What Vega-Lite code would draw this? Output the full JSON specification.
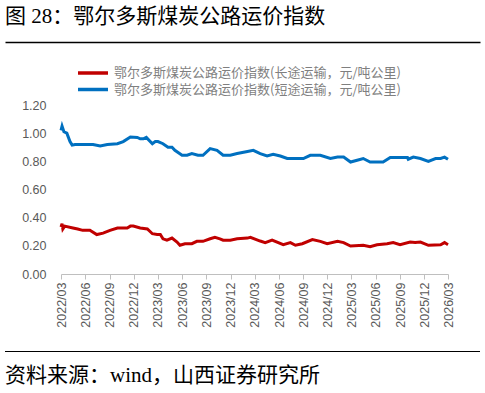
{
  "$schema": "https://vega.github.io/schema/vega-lite/v6.json",
  "padding": {"left": 5, "top": 6, "right": 5, "bottom": 0},
  "background": "white",
  "spacing": 17,
  "config": {"font": "Liberation Sans", "view": {"stroke": null}},
  "title": {"text": "图 28：鄂尔多斯煤炭公路运价指数", "anchor": "start", "frame": "bounds", "fontSize": 21, "font": "Liberation Serif, Noto Sans CJK SC", "fontWeight": "normal", "color": "#000000", "offset": 15},
  "resolve": {"scale": {"color": "independent"}, "legend": {"color": "independent"}},
  "vconcat": [
    {
      "width": 475,
      "height": 169,
      "data": {
        "values": [
          {"d": "2022/03/01", "s": "长途", "v": 0.334},
          {"d": "2022/03/05", "s": "长途", "v": 0.357},
          {"d": "2022/03/08", "s": "长途", "v": 0.32},
          {"d": "2022/03/15", "s": "长途", "v": 0.34},
          {"d": "2022/04/15", "s": "长途", "v": 0.327},
          {"d": "2022/05/03", "s": "长途", "v": 0.32},
          {"d": "2022/05/22", "s": "长途", "v": 0.31},
          {"d": "2022/06/18", "s": "长途", "v": 0.31},
          {"d": "2022/07/14", "s": "长途", "v": 0.28},
          {"d": "2022/08/07", "s": "长途", "v": 0.29},
          {"d": "2022/09/02", "s": "长途", "v": 0.31},
          {"d": "2022/09/30", "s": "长途", "v": 0.327},
          {"d": "2022/11/06", "s": "长途", "v": 0.327},
          {"d": "2022/11/18", "s": "长途", "v": 0.34},
          {"d": "2022/11/29", "s": "长途", "v": 0.34},
          {"d": "2022/12/25", "s": "长途", "v": 0.327},
          {"d": "2023/01/21", "s": "长途", "v": 0.32},
          {"d": "2023/02/09", "s": "长途", "v": 0.286},
          {"d": "2023/02/27", "s": "长途", "v": 0.28},
          {"d": "2023/03/11", "s": "长途", "v": 0.28},
          {"d": "2023/03/21", "s": "长途", "v": 0.25},
          {"d": "2023/04/05", "s": "长途", "v": 0.24},
          {"d": "2023/04/24", "s": "长途", "v": 0.255},
          {"d": "2023/05/13", "s": "长途", "v": 0.227},
          {"d": "2023/05/24", "s": "长途", "v": 0.204},
          {"d": "2023/06/12", "s": "长途", "v": 0.215},
          {"d": "2023/07/08", "s": "长途", "v": 0.215},
          {"d": "2023/07/27", "s": "长途", "v": 0.232},
          {"d": "2023/08/19", "s": "长途", "v": 0.232},
          {"d": "2023/09/15", "s": "长途", "v": 0.25},
          {"d": "2023/10/03", "s": "长途", "v": 0.26},
          {"d": "2023/10/22", "s": "长途", "v": 0.25},
          {"d": "2023/11/03", "s": "长途", "v": 0.24},
          {"d": "2023/11/30", "s": "长途", "v": 0.24},
          {"d": "2023/12/26", "s": "长途", "v": 0.25},
          {"d": "2024/02/03", "s": "长途", "v": 0.255},
          {"d": "2024/02/14", "s": "长途", "v": 0.26},
          {"d": "2024/03/22", "s": "长途", "v": 0.234},
          {"d": "2024/04/10", "s": "长途", "v": 0.223},
          {"d": "2024/05/06", "s": "长途", "v": 0.24},
          {"d": "2024/06/17", "s": "长途", "v": 0.208},
          {"d": "2024/07/14", "s": "长途", "v": 0.223},
          {"d": "2024/08/02", "s": "长途", "v": 0.204},
          {"d": "2024/08/28", "s": "长途", "v": 0.215},
          {"d": "2024/10/05", "s": "长途", "v": 0.244},
          {"d": "2024/11/04", "s": "长途", "v": 0.232},
          {"d": "2024/11/30", "s": "长途", "v": 0.215},
          {"d": "2025/01/08", "s": "长途", "v": 0.232},
          {"d": "2025/01/31", "s": "长途", "v": 0.223},
          {"d": "2025/02/26", "s": "长途", "v": 0.199},
          {"d": "2025/04/15", "s": "长途", "v": 0.204},
          {"d": "2025/05/11", "s": "长途", "v": 0.194},
          {"d": "2025/06/06", "s": "长途", "v": 0.208},
          {"d": "2025/07/14", "s": "长途", "v": 0.215},
          {"d": "2025/08/06", "s": "长途", "v": 0.223},
          {"d": "2025/09/01", "s": "长途", "v": 0.208},
          {"d": "2025/10/09", "s": "长途", "v": 0.227},
          {"d": "2025/10/28", "s": "长途", "v": 0.223},
          {"d": "2025/11/17", "s": "长途", "v": 0.227},
          {"d": "2025/12/17", "s": "长途", "v": 0.204},
          {"d": "2026/02/01", "s": "长途", "v": 0.208},
          {"d": "2026/02/16", "s": "长途", "v": 0.223},
          {"d": "2026/03/01", "s": "长途", "v": 0.208},
          {"d": "2022/03/01", "s": "短途", "v": 1.02},
          {"d": "2022/03/05", "s": "短途", "v": 1.05},
          {"d": "2022/03/12", "s": "短途", "v": 1.01},
          {"d": "2022/03/23", "s": "短途", "v": 1.0},
          {"d": "2022/04/04", "s": "短途", "v": 0.94},
          {"d": "2022/04/12", "s": "短途", "v": 0.915},
          {"d": "2022/04/23", "s": "短途", "v": 0.92},
          {"d": "2022/05/31", "s": "短途", "v": 0.92},
          {"d": "2022/06/30", "s": "短途", "v": 0.92},
          {"d": "2022/07/27", "s": "短途", "v": 0.909},
          {"d": "2022/08/23", "s": "短途", "v": 0.92},
          {"d": "2022/09/30", "s": "短途", "v": 0.925},
          {"d": "2022/10/22", "s": "短途", "v": 0.94},
          {"d": "2022/11/18", "s": "短途", "v": 0.973},
          {"d": "2022/12/14", "s": "短途", "v": 0.97},
          {"d": "2022/12/25", "s": "短途", "v": 0.96},
          {"d": "2023/01/06", "s": "短途", "v": 0.96},
          {"d": "2023/01/17", "s": "短途", "v": 0.97},
          {"d": "2023/02/09", "s": "短途", "v": 0.925},
          {"d": "2023/02/20", "s": "短途", "v": 0.94},
          {"d": "2023/03/02", "s": "短途", "v": 0.94},
          {"d": "2023/03/21", "s": "短途", "v": 0.925},
          {"d": "2023/04/09", "s": "短途", "v": 0.9},
          {"d": "2023/04/24", "s": "短途", "v": 0.9},
          {"d": "2023/05/05", "s": "短途", "v": 0.878},
          {"d": "2023/06/01", "s": "短途", "v": 0.843},
          {"d": "2023/06/20", "s": "短途", "v": 0.843},
          {"d": "2023/07/08", "s": "短途", "v": 0.855},
          {"d": "2023/07/31", "s": "短途", "v": 0.843},
          {"d": "2023/08/19", "s": "短途", "v": 0.843},
          {"d": "2023/09/15", "s": "短途", "v": 0.89},
          {"d": "2023/10/11", "s": "短途", "v": 0.878},
          {"d": "2023/11/03", "s": "短途", "v": 0.843},
          {"d": "2023/11/30", "s": "短途", "v": 0.843},
          {"d": "2023/12/26", "s": "短途", "v": 0.855},
          {"d": "2024/02/03", "s": "短途", "v": 0.87},
          {"d": "2024/02/25", "s": "短途", "v": 0.878},
          {"d": "2024/03/22", "s": "短途", "v": 0.855},
          {"d": "2024/04/17", "s": "短途", "v": 0.838},
          {"d": "2024/05/10", "s": "短途", "v": 0.85},
          {"d": "2024/06/06", "s": "短途", "v": 0.838},
          {"d": "2024/07/02", "s": "短途", "v": 0.82},
          {"d": "2024/09/01", "s": "短途", "v": 0.82},
          {"d": "2024/09/27", "s": "短途", "v": 0.843},
          {"d": "2024/11/04", "s": "短途", "v": 0.843},
          {"d": "2024/12/12", "s": "短途", "v": 0.82},
          {"d": "2025/01/08", "s": "短途", "v": 0.83},
          {"d": "2025/01/31", "s": "短途", "v": 0.83},
          {"d": "2025/02/26", "s": "短途", "v": 0.795},
          {"d": "2025/03/23", "s": "短途", "v": 0.808},
          {"d": "2025/04/15", "s": "短途", "v": 0.82},
          {"d": "2025/05/11", "s": "短途", "v": 0.795},
          {"d": "2025/06/29", "s": "短途", "v": 0.795},
          {"d": "2025/07/26", "s": "短途", "v": 0.827},
          {"d": "2025/09/29", "s": "短途", "v": 0.827},
          {"d": "2025/10/02", "s": "短途", "v": 0.815},
          {"d": "2025/10/21", "s": "短途", "v": 0.83},
          {"d": "2025/11/17", "s": "短途", "v": 0.82},
          {"d": "2025/12/17", "s": "短途", "v": 0.8},
          {"d": "2026/01/13", "s": "短途", "v": 0.82},
          {"d": "2026/02/01", "s": "短途", "v": 0.82},
          {"d": "2026/02/16", "s": "短途", "v": 0.83},
          {"d": "2026/03/01", "s": "短途", "v": 0.815}
        ]
      },
      "resolve": {"scale": {"x": "independent"}, "axis": {"x": "independent"}},
      "layer": [
        {
          "mark": {"type": "line", "opacity": 0},
          "encoding": {
            "x": {
              "field": "d", "type": "temporal",
              "scale": {"domain": [{"year": 2022, "month": 3, "date": 1}, {"year": 2026, "month": 3, "date": 1}]},
              "axis": {"orient": "top", "offset": 63, "title": null, "labels": false, "ticks": false, "grid": false, "domainColor": "#000000", "domainWidth": 1.3}
            },
            "y": {
              "field": "v", "type": "quantitative",
              "scale": {"domain": [0, 1.2], "nice": false},
              "axis": {
                "title": null, "values": [0, 0.2, 0.4, 0.6, 0.8, 1.0, 1.2], "format": ".2f", "grid": false, "domain": false, "ticks": false,
                "labelFontSize": 12.5, "labelColor": "#595959", "labelPadding": 15, "offset": -56
              }
            }
          }
        },
        {
          "mark": {"type": "line", "strokeWidth": 3, "interpolate": "linear"},
          "encoding": {
            "x": {
              "field": "d", "type": "temporal",
              "scale": {"domain": [{"year": 2022, "month": 3, "date": 1}, {"year": 2026, "month": 3, "date": 1}], "range": [56, 443]},
              "axis": {
                "title": null, "format": "%Y/%m", "labelAngle": 270, "grid": false,
                "values": [
                  {"year": 2022, "month": 3, "date": 1}, {"year": 2022, "month": 6, "date": 1}, {"year": 2022, "month": 9, "date": 1}, {"year": 2022, "month": 12, "date": 1},
                  {"year": 2023, "month": 3, "date": 1}, {"year": 2023, "month": 6, "date": 1}, {"year": 2023, "month": 9, "date": 1}, {"year": 2023, "month": 12, "date": 1},
                  {"year": 2024, "month": 3, "date": 1}, {"year": 2024, "month": 6, "date": 1}, {"year": 2024, "month": 9, "date": 1}, {"year": 2024, "month": 12, "date": 1},
                  {"year": 2025, "month": 3, "date": 1}, {"year": 2025, "month": 6, "date": 1}, {"year": 2025, "month": 9, "date": 1}, {"year": 2025, "month": 12, "date": 1},
                  {"year": 2026, "month": 3, "date": 1}
                ],
                "labelFontSize": 12.5, "labelColor": "#595959", "labelPadding": 3, "labelFlush": false, "labelOverlap": false,
                "domainColor": "#BFBFBF", "tickColor": "#BFBFBF", "tickSize": 5, "domainWidth": 1
              }
            },
            "y": {
              "field": "v", "type": "quantitative",
              "scale": {"domain": [0, 1.2], "nice": false},
              "axis": {
                "title": null, "values": [0, 0.2, 0.4, 0.6, 0.8, 1.0, 1.2], "format": ".2f", "grid": false, "domain": false, "ticks": false,
                "labelFontSize": 12.5, "labelColor": "#595959", "labelPadding": 15, "offset": -56
              }
            },
            "color": {
              "field": "s", "type": "nominal",
              "scale": {"domain": ["长途", "短途"], "range": ["#C00000", "#0070C0"]},
              "legend": {
                "title": null, "orient": "none", "legendX": 71, "legendY": -40, "direction": "vertical",
                "symbolType": "M-1,0H4", "symbolSize": 144, "symbolStrokeWidth": 3.5, "symbolFillColor": "transparent",
                "labelFontSize": 13, "labelColor": "#7F7F7F", "labelFont": "Noto Sans CJK SC", "labelLimit": 400,
                "rowPadding": 1.5, "labelOffset": 22,
                "labelExpr": "'鄂尔多斯煤炭公路运价指数(' + datum.label + '运输，元/吨公里)'"
              }
            }
          }
        }
      ]
    },
    {
      "width": 475,
      "height": 1,
      "view": {"fill": "#000000", "stroke": null},
      "title": {"text": "资料来源：wind，山西证券研究所", "orient": "bottom", "anchor": "start", "fontSize": 21, "font": "Liberation Serif, Noto Sans CJK SC", "fontWeight": "normal", "color": "#000000", "offset": 8},
      "data": {"values": [{"t": ""}]},
      "mark": "text",
      "encoding": {"text": {"field": "t"}}
    }
  ]
}
